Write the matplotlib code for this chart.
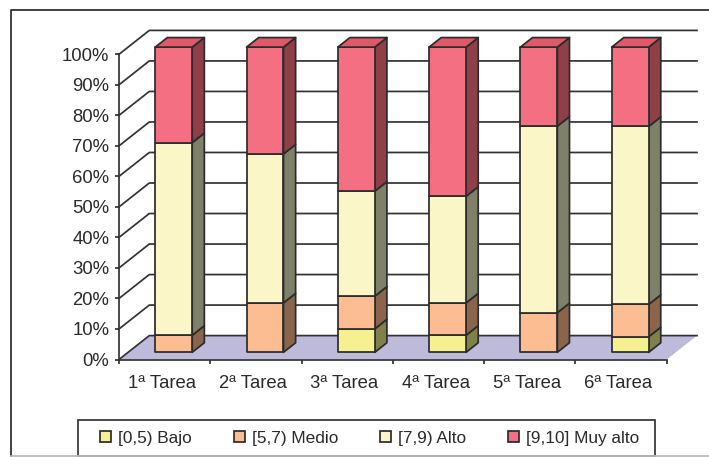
import numpy as np
import matplotlib
matplotlib.use('Agg')
import matplotlib.pyplot as plt
from matplotlib.patches import Polygon, Patch, Rectangle
from matplotlib.lines import Line2D

plt.rcParams['font.family'] = ['Liberation Sans', 'DejaVu Sans']

tareas = ['1ª Tarea', '2ª Tarea', '3ª Tarea', '4ª Tarea', '5ª Tarea', '6ª Tarea']
series_names = ['[0,5) Bajo', '[5,7) Medio', '[7,9) Alto', '[9,10] Muy alto']
bajo = [0, 0, 7.7, 5.6, 0, 5.1]
medio = [5.6, 16.2, 10.7, 10.6, 13.0, 10.6]
alto = [63.1, 48.8, 34.4, 34.9, 61.1, 58.3]
muy_alto = [31.3, 35.0, 47.2, 48.9, 25.9, 26.0]

front_colors = ['#F6F190', '#FCBD92', '#FBF6C8', '#F56F83']
side_colors = ['#80814A', '#8A654C', '#7F8068', '#8F3F47']
top_color = '#E05969'
floor_color = '#BEBADC'
edge = '#2B2B2B'

W, H = 709, 457
fig = plt.figure(figsize=(W / 100, H / 100), dpi=100)
# front plane of the 3D box, in pixels
left, right, top, bottom = 119, 666.7, 54.3, 359.5
ax = fig.add_axes([left / W, 1 - bottom / H, (right - left) / W, (bottom - top) / H])
ax.set_xlim(0, 6)
ax.set_ylim(0, 100)
ax.patch.set_visible(False)

# depth of the box in data units
depth_x = 30.3 / ((right - left) / 6)
depth_y = 23.9 / ((bottom - top) / 100)


def proj(x, y, z):
    return (x + z * depth_x, y + z * depth_y)


def face(points, color, zorder):
    ax.add_patch(Polygon([proj(*p) for p in points], closed=True, facecolor=color,
                         edgecolor=edge, linewidth=1.25, joinstyle='round',
                         clip_on=False, zorder=zorder))


# floor
ax.add_patch(Polygon([proj(0, 0, 0), proj(6, 0, 0), proj(6, 0, 1), proj(0, 0, 1)],
                     closed=True, facecolor=floor_color, edgecolor='none',
                     clip_on=False, zorder=1))

# grid on the back wall and the left wall
for v in np.arange(0, 101, 10):
    xs, ys = zip(proj(0, v, 0), proj(0, v, 1), proj(6, v, 1))
    ax.plot(xs, ys, color='#333333', lw=1.25, clip_on=False, zorder=2)

# stacked bars
bar_width = 0.405
z0, z1 = 0.3, 0.7
for i in range(len(tareas)):
    x0 = i + 0.5 - bar_width / 2
    x1 = x0 + bar_width
    base = 0
    for k, values in enumerate([bajo, medio, alto, muy_alto]):
        v = values[i]
        if v == 0:
            continue
        t = base + v
        face([(x1, base, z0), (x1, base, z1), (x1, t, z1), (x1, t, z0)], side_colors[k], 4)
        face([(x0, base, z0), (x1, base, z0), (x1, t, z0), (x0, t, z0)], front_colors[k], 5)
        base = t
    face([(x0, base, z0), (x1, base, z0), (x1, base, z1), (x0, base, z1)], top_color, 5)

# axes
for s in ['top', 'right']:
    ax.spines[s].set_visible(False)
for s in ['left', 'bottom']:
    ax.spines[s].set_color('#333333')
    ax.spines[s].set_linewidth(1.25)
    ax.spines[s].set_zorder(3)
ax.set_yticks(np.arange(0, 101, 10))
ax.set_yticklabels([f'{v}%' for v in range(0, 101, 10)], fontsize=13.3, color='#2A2A2A')
ax.set_xticks(np.arange(7))
ax.set_xticklabels([])
ax.set_xticks(np.arange(6) + 0.47, minor=True)
ax.set_xticklabels(tareas, minor=True, fontsize=13.3, color='#2A2A2A')
ax.tick_params(axis='x', which='major', length=3.2, width=1.25, color='#333333')
ax.tick_params(axis='x', which='minor', length=0, pad=11)
ax.tick_params(axis='y', length=3, width=1.25, color='#333333', pad=4)

# outer border: top, left and a lighter bottom
fig.add_artist(Line2D([11 / W, 11 / W, 1], [1 - 456 / H, 1 - 10 / H, 1 - 10 / H],
                      color='#333333', lw=1.3))
fig.add_artist(Line2D([11 / W, 1], [1 - 456 / H, 1 - 456 / H], color='#BBBBBB', lw=1.3))

# legend box is drawn apart so its side margins can be wider than the top and bottom
fig.add_artist(Rectangle((78 / W, 1 - 456 / H), (655 - 78) / W, 36 / H, transform=fig.transFigure,
                         facecolor='white', edgecolor='#333333', linewidth=1.25))
handles = [Patch(facecolor=c, edgecolor=edge, linewidth=1.25) for c in front_colors]
leg = fig.legend(handles, series_names, ncol=4, loc='center left',
                 bbox_to_anchor=(100 / W, 1 - 438 / H), bbox_transform=fig.transFigure,
                 fontsize=12.4, frameon=False, borderaxespad=0, borderpad=0,
                 handlelength=0.65, handleheight=0.65,
                 handletextpad=0.42, columnspacing=2.4, labelcolor='#2A2A2A')

fig.savefig('out.png', dpi=100)
